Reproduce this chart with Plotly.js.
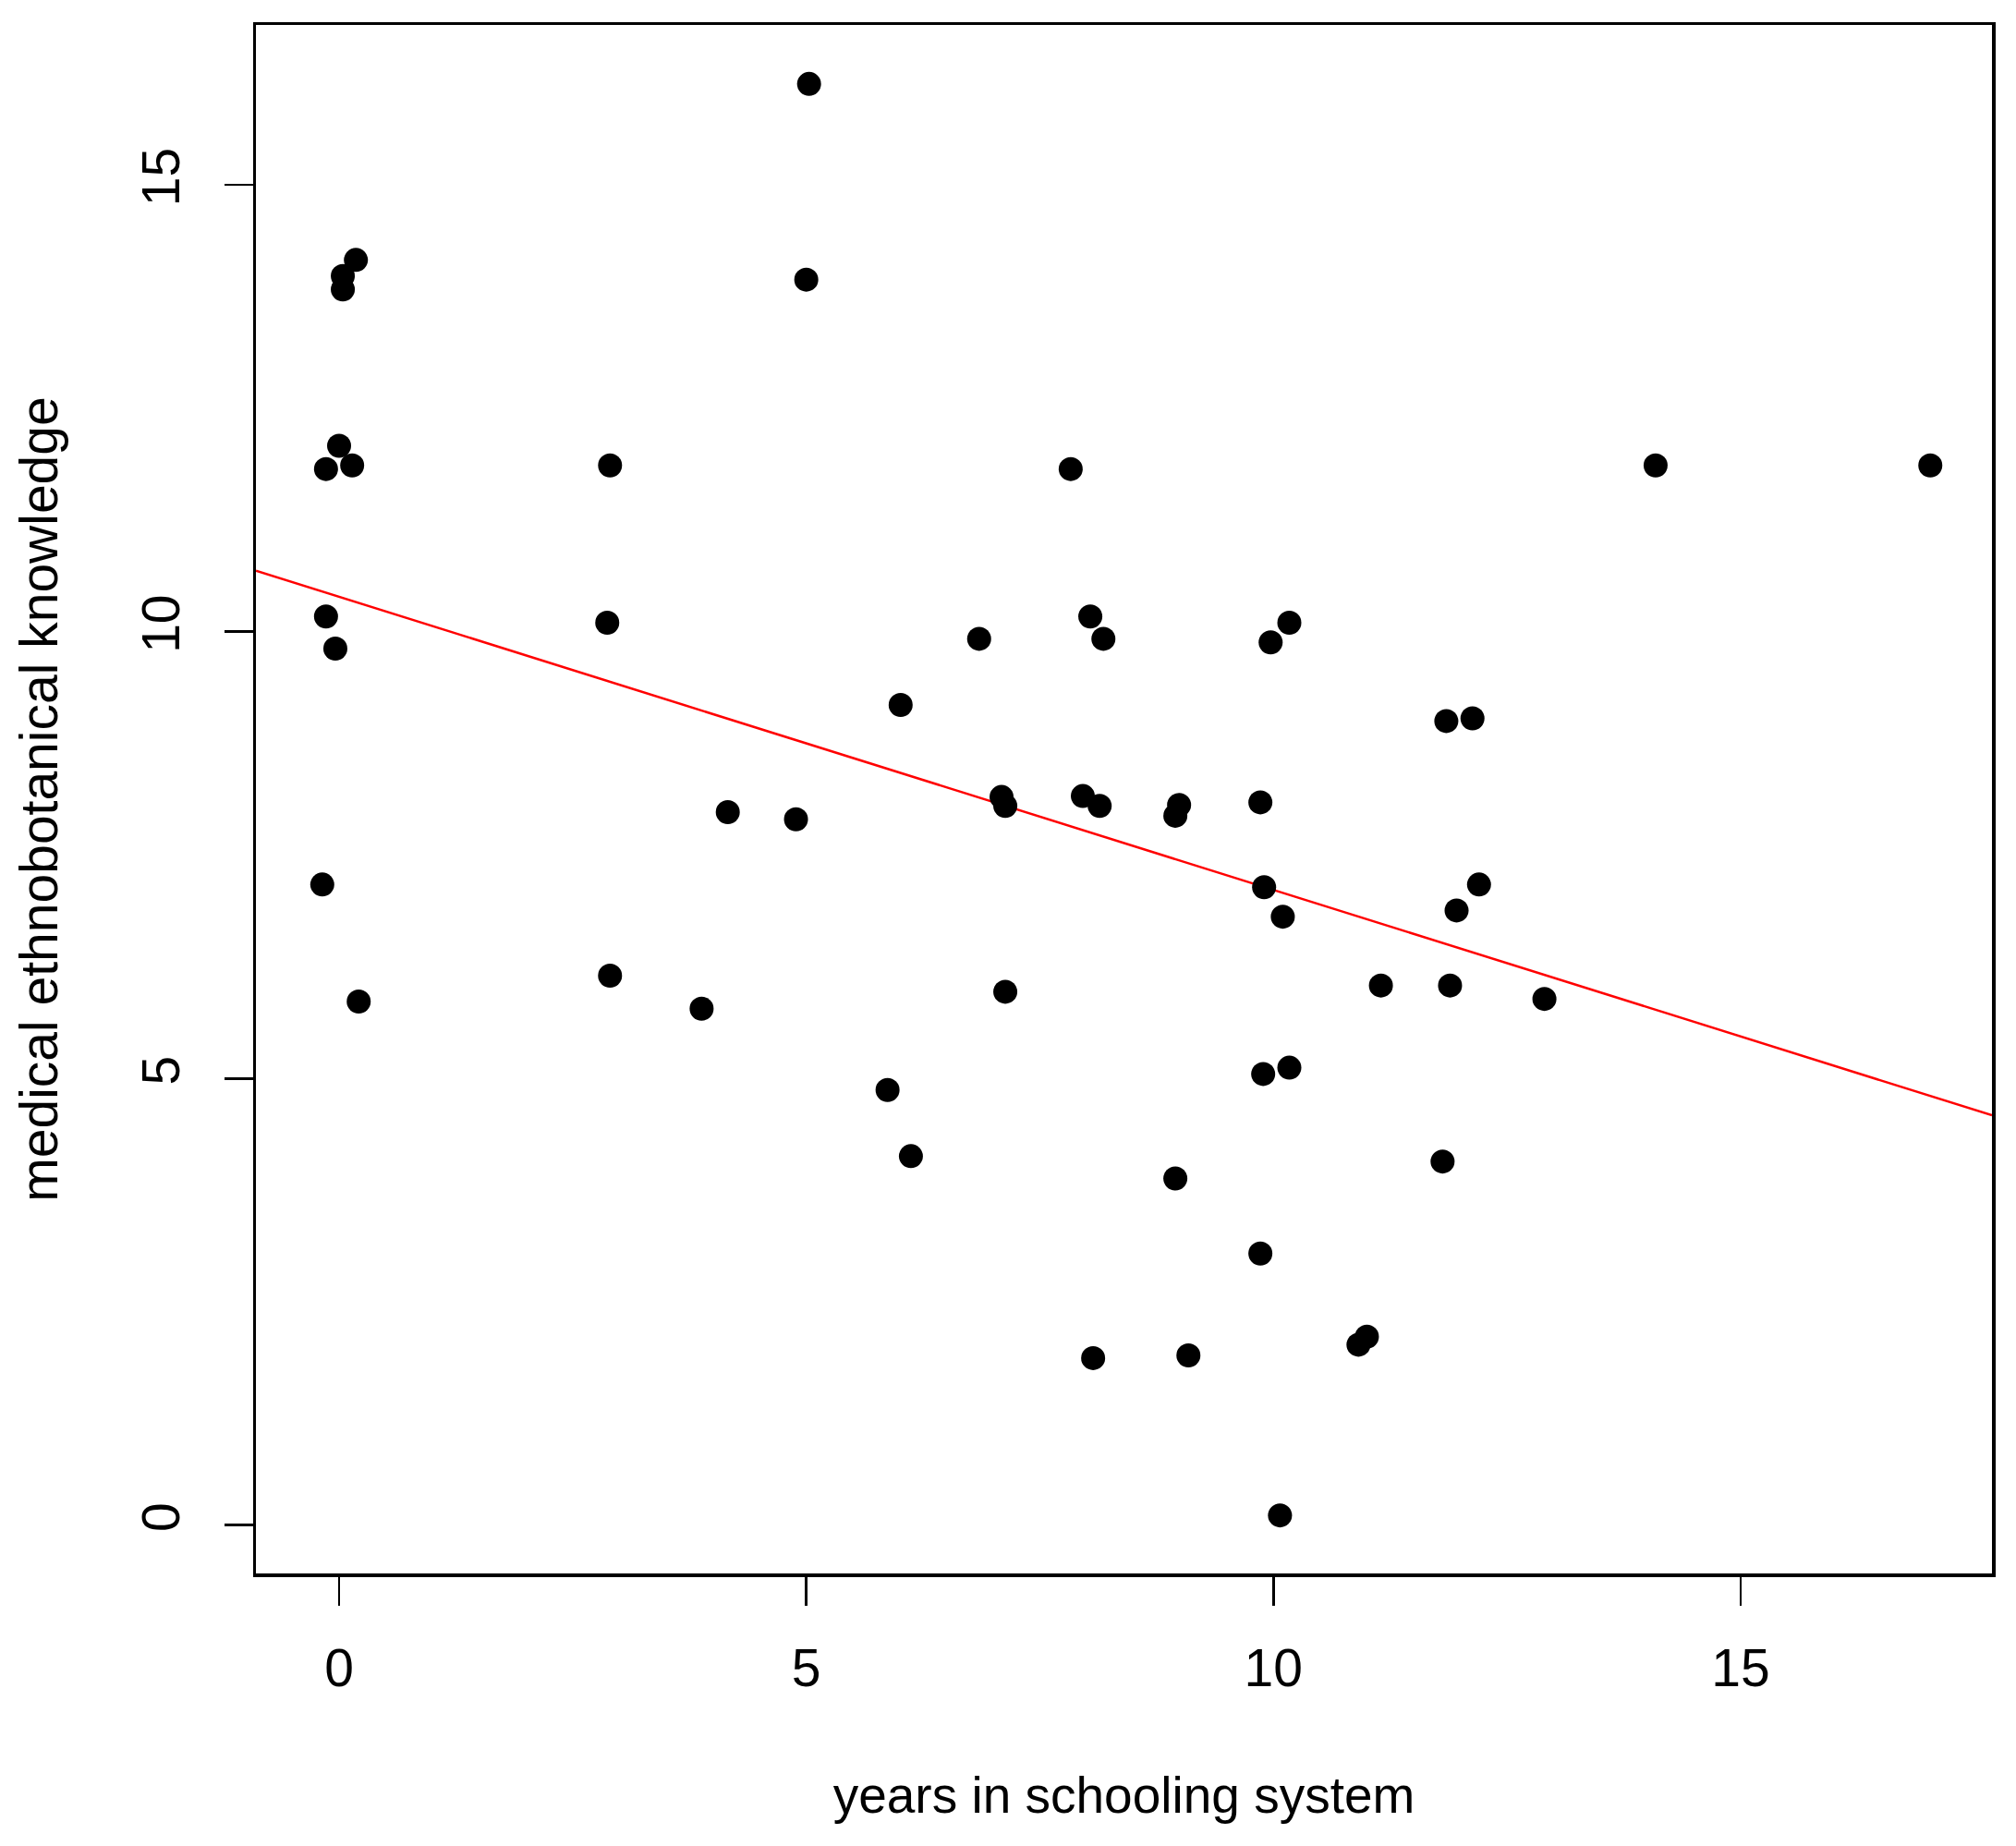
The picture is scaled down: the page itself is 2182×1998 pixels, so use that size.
<!DOCTYPE html>
<html>
<head>
<meta charset="utf-8">
<script src="https://cdn.plot.ly/plotly-3.0.1.min.js"></script>
<style>
  html, body { margin: 0; padding: 0; background: #fff; }
  #chartDiv { width: 2182px; height: 1998px; }
</style>
</head>
<body>
<div id="chartDiv"></div>
<script>
// values -------------------------------------------------------
var schoolYears = [0.18, 0.04, 0.04, 0.00, -0.14, 0.14, -0.14, -0.04, -0.18, 0.21,
  2.90, 2.87, 2.90, 3.88, 4.16, 4.89, 5.00, 5.03, 5.87, 6.01,
  6.12, 6.85, 7.09, 7.13, 7.13, 7.83, 7.96, 8.04, 8.14, 8.18,
  8.07, 8.95, 8.95, 8.99, 9.09, 9.86, 9.86, 9.90, 9.89, 9.97,
  10.07, 10.10, 10.17, 10.17, 10.91, 11.00, 11.15, 11.81, 11.85, 11.89,
  11.96, 12.13, 12.20, 12.90, 14.09, 17.03];
var knowledge = [14.16, 13.98, 13.83, 12.08, 11.82, 11.86, 10.17, 9.81, 7.17, 5.86,
  11.86, 10.10, 6.15, 5.78, 7.98, 7.90, 13.94, 16.13, 4.87, 9.18,
  4.13, 9.92, 8.15, 8.05, 5.97, 11.82, 8.16, 10.17, 8.05, 9.92,
  1.87, 3.88, 7.94, 8.06, 1.90, 3.04, 8.09, 7.14, 5.05, 9.88,
  0.11, 6.81, 10.10, 5.12, 2.02, 2.11, 6.04, 4.07, 9.00, 6.04,
  6.88, 9.03, 7.17, 5.89, 11.86, 11.86];

// fitted line (abline)
var fitIntercept = 10.39;
var fitSlope = -0.328;

var xTicks = [0, 5, 10, 15];
var yTicks = [0, 5, 10, 15];

var xRange = [-0.89, 17.69];
var yRange = [-0.54, 16.79];

// traces -------------------------------------------------------
var points = {
  type: 'scatter',
  mode: 'markers',
  x: schoolYears,
  y: knowledge,
  marker: { color: '#000', size: 26, line: { width: 0 } },
  hoverinfo: 'x+y'
};

var fitLine = {
  type: 'scatter',
  mode: 'lines',
  x: xRange,
  y: xRange.map(function (x) { return fitIntercept + fitSlope * x; }),
  line: { color: '#ff0000', width: 2.5 },
  hoverinfo: 'skip'
};

var axisFont = { family: 'Liberation Sans, Arial, sans-serif', size: 57, color: '#000' };
var xTitleFont = { family: 'Liberation Sans, Arial, sans-serif', size: 55, color: '#000' };

var layout = {
  width: 2182,
  height: 1998,
  showlegend: false,
  paper_bgcolor: '#fff',
  plot_bgcolor: '#fff',
  margin: { l: 277, r: 26, t: 27, b: 295 },
  font: axisFont,
  xaxis: {
    range: xRange,
    tickvals: xTicks,
    ticktext: xTicks.map(String),
    showgrid: false,
    zeroline: false,
    showline: true,
    mirror: true,
    linecolor: '#000',
    linewidth: 3.5,
    ticks: 'outside',
    ticklen: 31,
    tickwidth: 2.7,
    tickcolor: '#000',
    tickfont: axisFont,
    ticklabelstandoff: 19,
    title: { text: 'years in schooling system', font: xTitleFont, standoff: 88 }
  },
  yaxis: {
    range: yRange,
    tickvals: yTicks,
    ticktext: yTicks.map(String),
    tickangle: -90,
    showgrid: false,
    zeroline: false,
    showline: true,
    mirror: true,
    linecolor: '#000',
    linewidth: 3.5,
    ticks: 'outside',
    ticklen: 31,
    tickwidth: 2.7,
    tickcolor: '#000',
    tickfont: axisFont,
    ticklabelstandoff: 26,
    title: { text: 'medical ethnobotanical knowledge', font: axisFont, standoff: 62 }
  }
};

Plotly.newPlot('chartDiv', [fitLine, points], layout, { staticPlot: true });
</script>
</body>
</html>
